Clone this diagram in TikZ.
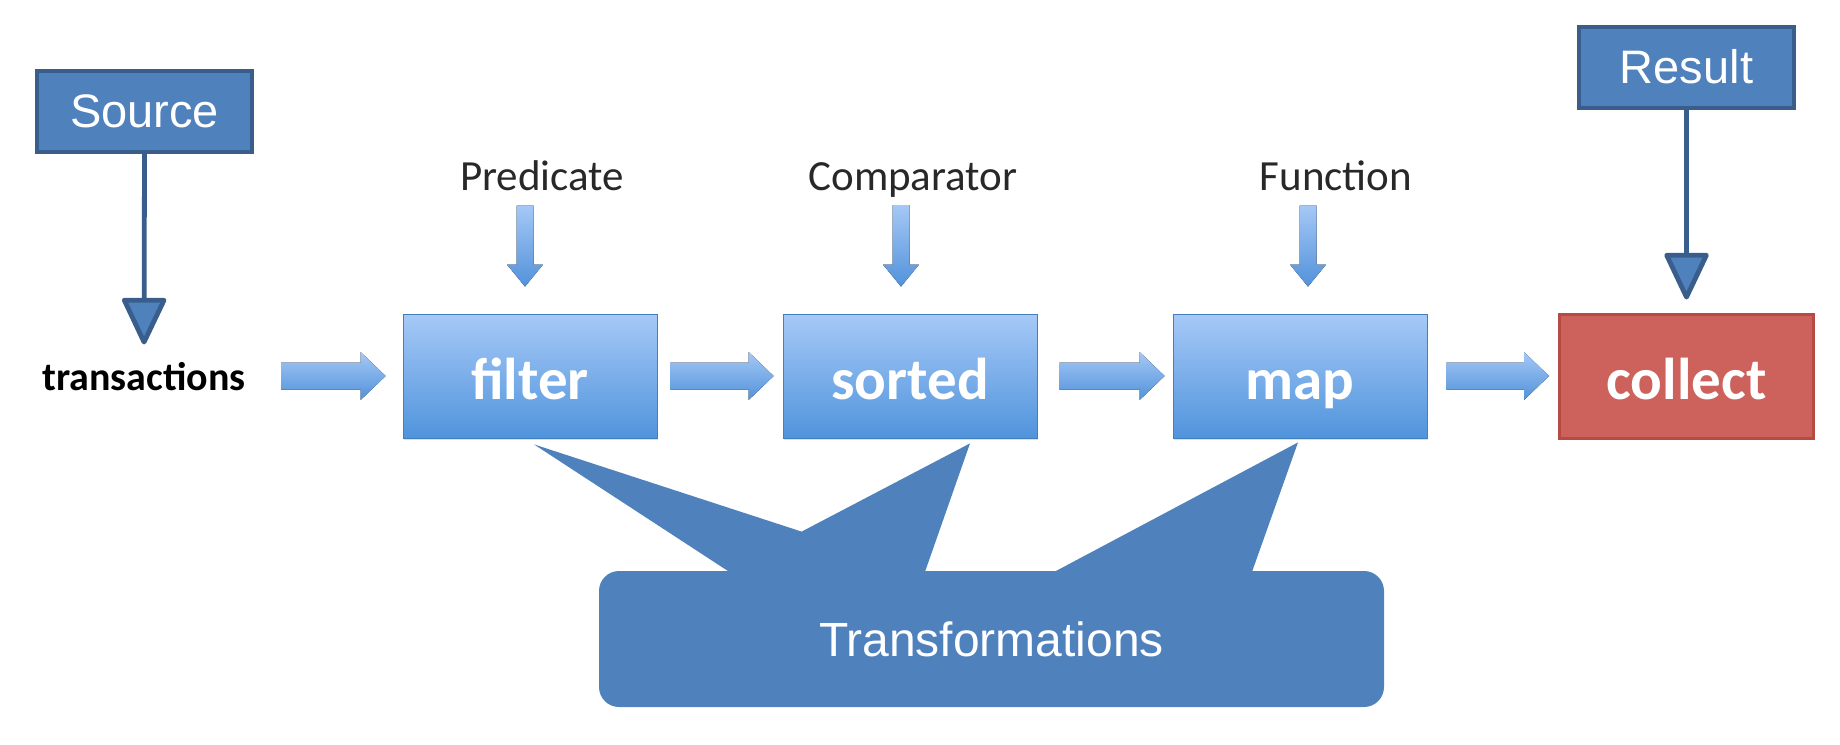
\documentclass[tikz,border=0pt]{standalone}
\usepackage{fontspec}
\setmainfont{Liberation Sans}
\newfontfamily\calfont{Carlito}
\usetikzlibrary{calc,arrows.meta,shadows}
\definecolor{srcblue}{RGB}{79,129,189}
\definecolor{srcdark}{RGB}{58,94,140}
\definecolor{boxtop}{RGB}{166,201,247}
\definecolor{boxbot}{RGB}{80,148,220}
\definecolor{arrtop}{RGB}{165,200,246}
\definecolor{arrbot}{RGB}{82,146,218}
\definecolor{redfill}{RGB}{205,98,92}
\definecolor{redborder}{RGB}{184,74,68}
\definecolor{labelgray}{RGB}{40,40,40}
\tikzset{
  tagbox/.style={draw=srcdark, line width=2pt, fill=srcblue, text=white,
    font=\fontsize{23.5}{27}\selectfont, minimum width=107.5pt, minimum height=40.5pt, inner sep=0pt},
  opbox/.style={draw=boxbot!85!black, line width=0.4pt, top color=boxtop, bottom color=boxbot,
    text=white, font=\calfont\bfseries\fontsize{29.5}{33}\selectfont,
    minimum width=127pt, minimum height=62pt, inner sep=0pt, text height=23pt, text depth=0pt,
    drop shadow={shadow xshift=0.6pt, shadow yshift=-1.2pt, opacity=0.25}},
  termbox/.style={opbox, draw=redborder, line width=1.5pt, top color=redfill, bottom color=redfill},
  argtext/.style={font=\calfont\fontsize{21.5}{25}\selectfont, text=labelgray, inner sep=0pt, anchor=base},
  srcline/.style={draw=srcdark, line width=2.4pt,
    -{Triangle[width=23pt,length=25pt,fill=srcblue,round]}},
  blockarr/.style={top color=arrtop, bottom color=arrbot},
  callout/.style={fill=srcblue},
}
\newcommand\harrow[2]{\fill[blockarr] let \p1=#1, \p2=#2 in
  (\x1,{\y2+6.75pt}) -- ({\x2-12.5pt},{\y2+6.75pt}) -- ({\x2-12.5pt},{\y2+12pt}) --
  (\x2,\y2) -- ({\x2-12.5pt},{\y2-12pt}) -- ({\x2-12.5pt},{\y2-6.75pt}) -- (\x1,{\y2-6.75pt}) -- cycle;}
\newcommand\varrow[2]{\fill[blockarr] let \p1=#1, \p2=#2 in
  ({\x2-4.25pt},\y1) -- ({\x2+4.25pt},\y1) -- ({\x2+4.25pt},{\y2+11pt}) -- ({\x2+9pt},{\y2+11pt}) --
  (\x2,\y2) -- ({\x2-9pt},{\y2+11pt}) -- ({\x2-4.25pt},{\y2+11pt}) -- cycle;}
\begin{document}
\begin{tikzpicture}[x=0.5pt,y=-0.5pt]
\useasboundingbox (0,0) rectangle (1840,744);
% tag boxes
\node[tagbox] (src) at (144.5,111.5) {Source};
\node[tagbox] (res) at (1686.5,67) {Result};
% pipeline
\node[font=\calfont\bfseries\fontsize{20}{24}\selectfont, inner sep=0pt, anchor=base] (trans) at (144,390) {transactions};
\node[opbox] (filter) at (530,376) {filter};
\node[opbox] (sorted) at (910,376) {sorted};
\node[opbox] (map) at (1300,376) {map};
\node[termbox] (collect) at (1686.5,376) {collect};
% argument labels
\node[argtext] (pred) at (542,190) {Predicate};
\node[argtext] (comp) at (913,190) {Comparator};
\node[argtext] (func) at (1336,190) {Function};
% block arrows
\harrow{($(trans.east)+(35,0)$)}{($(filter.west)+(-17,0)$)}
\harrow{($(filter.east)+(13,0)$)}{($(sorted.west)+(-9,0)$)}
\harrow{($(sorted.east)+(22,0)$)}{($(map.west)+(-8,0)$)}
\harrow{($(map.east)+(19,0)$)}{($(collect.west)+(-9,0)$)}
\varrow{($(pred.south)+(0,15)$)}{($(filter.north)+(-5,-27)$)}
\varrow{($(comp.base)+(0,15)$)}{($(sorted.north)+(-9,-27)$)}
\varrow{($(func.south)+(0,15)$)}{($(map.north)+(8,-27)$)}
% source / result connectors
\draw[srcline, shorten >=8.5pt] (src.south) -- (trans.north);
\draw[srcline, shorten >=6.5pt] (res.south) -- (collect.north);
% transformations callout
\node[callout, rounded corners=10pt, minimum width=392.5pt, minimum height=68pt, inner sep=0pt] (trf) at (991.5,639) {};
\fill[callout] ($(trf.north west)+(141,8)$) -- ($(filter.south)+(4,6)$) -- ($(trf.north west)+(203,-39)$)
  -- ($(sorted.south)+(60,5)$) -- ($(trf.north west)+(324,8)$) -- cycle;
\fill[callout] ($(trf.north west)+(443,8)$) -- ($(map.south)+(-2,4)$) -- ($(trf.north west)+(651,8)$) -- cycle;
\node[text=white, font=\fontsize{24}{28}\selectfont, inner sep=0pt] (trflabel) at (trf.center) {Transformations};
\end{tikzpicture}
\end{document}
